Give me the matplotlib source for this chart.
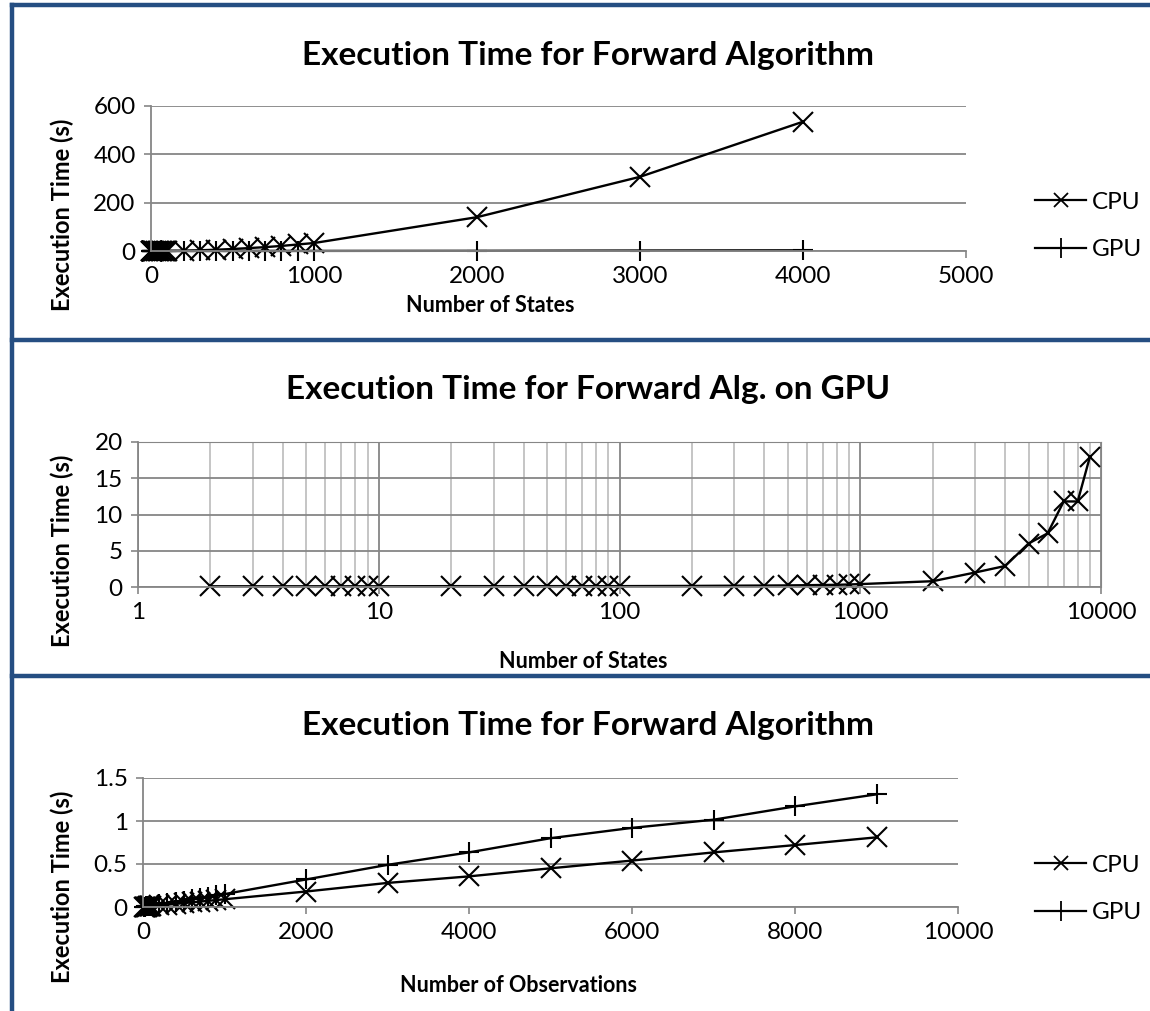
import matplotlib
matplotlib.use("Agg")
import matplotlib.pyplot as plt
from matplotlib.lines import Line2D
from matplotlib.ticker import LogLocator, NullFormatter

plt.rcParams['font.family'] = ['Lato', 'DejaVu Sans']

# ---- panel 1: forward algorithm vs number of states (CPU vs GPU)
states1 = [2, 3, 4, 5, 6, 7, 8, 9, 10, 20, 30, 40, 50, 60, 70, 80, 90, 100,
           200, 300, 400, 500, 600, 700, 800, 900, 1000, 2000, 3000, 4000]
cpu1 = [0, 0, 0, 0, 0, 0, 0, 0, 0, 0, 0, 0.1, 0.1, 0.1, 0.2, 0.2, 0.3, 0.3,
        1.3, 3, 5.3, 8.3, 12, 16, 21, 27, 33, 140, 307, 535]
gpu1 = [0.1, 0.1, 0.1, 0.1, 0.1, 0.1, 0.1, 0.1, 0.1, 0.12, 0.12, 0.12, 0.12,
        0.12, 0.12, 0.12, 0.12, 0.12, 0.15, 0.18, 0.2, 0.22, 0.25, 0.28, 0.3,
        0.35, 0.4, 0.8, 2.0, 2.9]

# ---- panel 2: GPU only, log x
states2 = [2, 3, 4, 5, 6, 7, 8, 9, 10, 20, 30, 40, 50, 60, 70, 80, 90, 100,
           200, 300, 400, 500, 600, 700, 800, 900, 1000,
           2000, 3000, 4000, 5000, 6000, 7000, 8000, 9000]
gpu2 = [0.1, 0.1, 0.1, 0.1, 0.1, 0.1, 0.1, 0.1, 0.1, 0.12, 0.12, 0.12, 0.12,
        0.12, 0.12, 0.12, 0.12, 0.12, 0.15, 0.18, 0.2, 0.22, 0.25, 0.28, 0.3,
        0.35, 0.4, 0.8, 2.0, 2.9, 6.0, 7.4, 11.8, 11.8, 18.0]

# ---- panel 3: forward algorithm vs number of observations
obs3 = [10, 20, 30, 40, 50, 60, 70, 80, 90, 100,
        200, 300, 400, 500, 600, 700, 800, 900, 1000,
        2000, 3000, 4000, 5000, 6000, 7000, 8000, 9000]
cpu3 = [0.001, 0.002, 0.003, 0.004, 0.005, 0.006, 0.007, 0.008, 0.009, 0.01,
        0.018, 0.027, 0.036, 0.045, 0.054, 0.063, 0.072, 0.081, 0.09,
        0.18, 0.28, 0.356, 0.45, 0.54, 0.635, 0.72, 0.81]
gpu3 = [0.002, 0.003, 0.005, 0.006, 0.008, 0.009, 0.011, 0.012, 0.014, 0.015,
        0.03, 0.045, 0.06, 0.075, 0.09, 0.105, 0.12, 0.135, 0.15,
        0.32, 0.49, 0.635, 0.80, 0.92, 1.015, 1.17, 1.31]

W, H = 1150, 1011
fig = plt.figure(figsize=(W / 100, H / 100), dpi=100)

def rect(l, r, t, b):
    return [l / W, 1 - b / H, (r - l) / W, (b - t) / H]

def ftext(x, y, s, **kw):
    fig.text(x / W, 1 - y / H, s, ha='center', va='center', fontweight='bold', **kw)

GRID = '#868686'
cpu_kw = dict(color='black', lw=1.7, marker='x', ms=14, mew=1.5, clip_on=False)
gpu_kw = dict(color='black', lw=1.7, marker='+', ms=14, mew=1.5, clip_on=False)
TICK_FS = 17.5
YLAB_FS = 17
XLAB_FS = 15.5
TITLE_FS = 24

def style(ax):
    for s in ['top', 'right']:
        ax.spines[s].set_visible(False)
    for s in ['left', 'bottom']:
        ax.spines[s].set_color(GRID)
        ax.spines[s].set_linewidth(1.3)
    ax.tick_params(which='major', direction='out', length=5, width=1.2,
                   color=GRID, labelsize=TICK_FS, pad=6)
    ax.yaxis.grid(True, color=GRID, lw=1.3)
    ax.set_axisbelow(True)

# panel 1
ax1 = fig.add_axes(rect(151, 966, 106, 251))
ax1.plot(states1, cpu1, **cpu_kw)
ax1.plot(states1, gpu1, **gpu_kw)
ax1.set_xlim(0, 5000)
ax1.set_ylim(0, 600)
ax1.set_xticks([0, 1000, 2000, 3000, 4000, 5000])
ax1.set_yticks([0, 200, 400, 600])
style(ax1)

# panel 2
ax2 = fig.add_axes(rect(138, 1101, 442, 587))
ax2.plot(states2, gpu2, **cpu_kw)
ax2.set_xscale('log')
ax2.set_xlim(1, 10000)
ax2.set_ylim(0, 20)
ax2.set_xticks([1, 10, 100, 1000, 10000])
ax2.set_xticklabels(['1', '10', '100', '1000', '10000'])
ax2.xaxis.set_minor_locator(LogLocator(base=10, subs=range(2, 10)))
ax2.xaxis.set_minor_formatter(NullFormatter())
ax2.set_yticks([0, 5, 10, 15, 20])
style(ax2)
ax2.tick_params(which='minor', length=0)
ax2.xaxis.grid(True, which='major', color=GRID, lw=1.3)
ax2.xaxis.grid(True, which='minor', color='#c0c0c0', lw=1.3)
ax2.spines['right'].set_visible(True)
ax2.spines['right'].set_color(GRID)
ax2.spines['top'].set_visible(True)
ax2.spines['top'].set_color(GRID)

# panel 3
ax3 = fig.add_axes(rect(143, 958, 778, 907))
ax3.plot(obs3, cpu3, **cpu_kw)
ax3.plot(obs3, gpu3, **gpu_kw)
ax3.set_xlim(0, 10000)
ax3.set_ylim(0, 1.5)
ax3.set_xticks([0, 2000, 4000, 6000, 8000, 10000])
ax3.set_yticks([0, 0.5, 1, 1.5])
ax3.set_yticklabels(['0', '0.5', '1', '1.5'])
style(ax3)

# axis labels (Excel places them off-centre)
ftext(490, 305, 'Number of States', fontsize=XLAB_FS)
ftext(583, 662, 'Number of States', fontsize=XLAB_FS)
ftext(518, 985, 'Number of Observations', fontsize=XLAB_FS)
for yc in (215, 551, 887):
    ftext(62, yc, 'Execution Time (s)', fontsize=YLAB_FS, rotation=90)

# legends
handles = [Line2D([], [], color='black', lw=1.6, marker='x', ms=10, mew=1.3),
           Line2D([], [], color='black', lw=1.6, marker='+', ms=14, mew=1.3)]
for y in (226, 889):
    fig.legend(handles, ['CPU', 'GPU'], loc='center left',
               bbox_to_anchor=(1035 / W, 1 - y / H), frameon=False, fontsize=TICK_FS,
               borderpad=0, borderaxespad=0,
               handlelength=2.1, handletextpad=0.25, labelspacing=1.1)

# titles
ftext(588, 55, 'Execution Time for Forward Algorithm', fontsize=TITLE_FS)
ftext(588, 389, 'Execution Time for Forward Alg. on GPU', fontsize=TITLE_FS)
ftext(588, 725, 'Execution Time for Forward Algorithm', fontsize=TITLE_FS)

# blue frame lines
BLUE = '#254E82'
for y in (5, 340, 676):
    fig.add_artist(Line2D([12 / W, 1], [1 - y / H, 1 - y / H], color=BLUE, lw=3.2,
                          transform=fig.transFigure))
fig.add_artist(Line2D([12 / W, 12 / W], [1 - 5 / H, 0], color=BLUE, lw=3.2,
                      transform=fig.transFigure))

fig.savefig('out.png', dpi=100)
